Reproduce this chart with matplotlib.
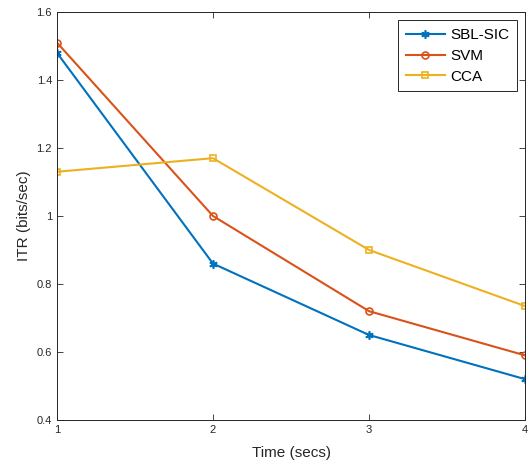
import numpy as np
import matplotlib.pyplot as plt

plt.rcParams['font.family'] = ['Liberation Sans', 'DejaVu Sans']

time_secs = [1, 2, 3, 4]
sbl_sic = [1.48, 0.86, 0.65, 0.52]
svm = [1.51, 1.00, 0.72, 0.59]
cca = [1.13, 1.17, 0.90, 0.735]

fig = plt.figure(figsize=(5.32, 4.69), dpi=100)
ax = fig.add_axes([0.107, 0.1045, 0.880, 0.870])

ax.plot(time_secs, sbl_sic, color='#0072BD', marker=(6, 2, 0), markersize=6,
        markeredgewidth=1.2, linewidth=1.5, label='SBL-SIC')
ax.plot(time_secs, svm, color='#D95319', marker='o', markersize=5,
        markerfacecolor='none', markeredgewidth=1.2, linewidth=1.5, label='SVM')
ax.plot(time_secs, cca, color='#EDB120', marker='s', markersize=5,
        markerfacecolor='none', markeredgewidth=1.2, linewidth=1.5, label='CCA')

ax.set_xlim(1, 4)
ax.set_ylim(0.4, 1.6)
ax.set_xticks([1, 2, 3, 4])
ax.set_yticks([0.4, 0.6, 0.8, 1.0, 1.2, 1.4, 1.6])
ax.set_yticklabels(['0.4', '0.6', '0.8', '1', '1.2', '1.4', '1.6'])
ax.tick_params(direction='in', length=4, width=0.6, labelsize=8,
               colors='#262626', top=True, right=True)
for s in ax.spines.values():
    s.set_linewidth(0.7)
    s.set_color('#262626')

ax.set_xlabel('Time (secs)', fontsize=11, color='#262626', labelpad=8)
ax.set_ylabel('ITR (bits/sec)', fontsize=11, color='#262626')

leg = ax.legend(loc='upper right', fontsize=11, fancybox=False, framealpha=1,
                edgecolor='#262626', borderaxespad=0.55, handlelength=2.6,
                handletextpad=0.3, labelspacing=0.45, borderpad=0.5)
leg.get_frame().set_linewidth(0.7)

fig.savefig('out.png', dpi=100)
